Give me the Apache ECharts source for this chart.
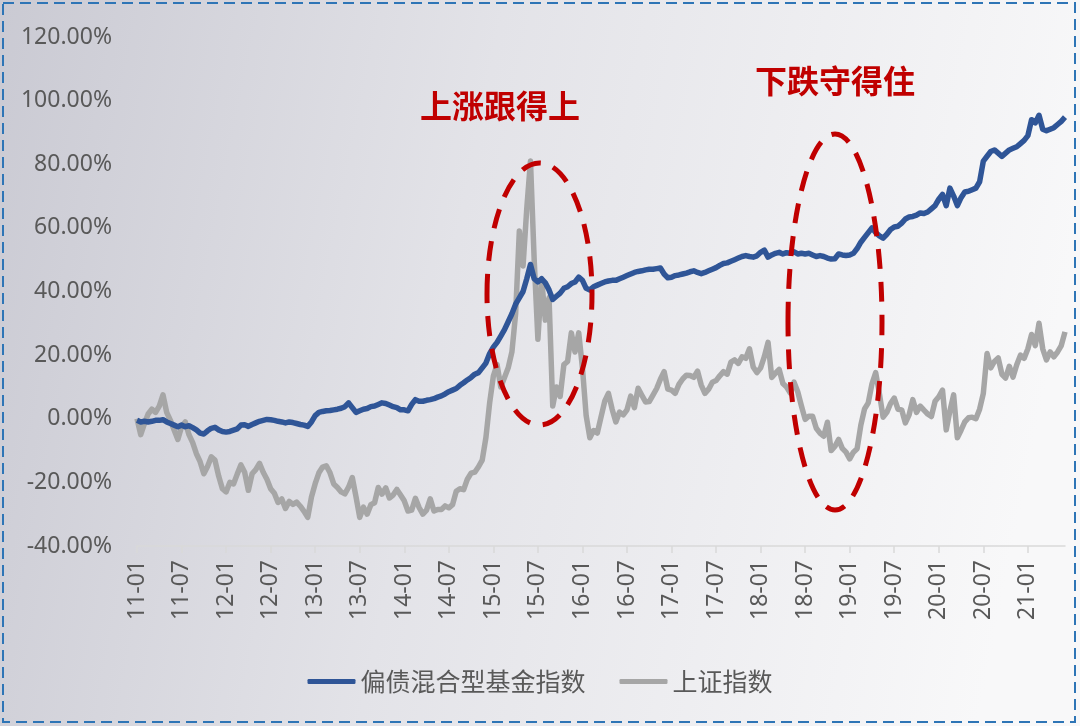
<!DOCTYPE html>
<html>
<head>
<meta charset="utf-8">
<script src="https://cdn.jsdelivr.net/npm/echarts@6/dist/echarts.min.js"></script>
<style>
  html, body { margin: 0; padding: 0; }
  #chart { width: 1080px; height: 726px; }
</style>
</head>
<body>
<div id="chart"></div>
<script>
// half-month samples, 2011-01-01 .. 2021-06-01 (cumulative return, %)
const fundIndex = [
  -0.5, -1, -0.8, -1, -0.8, -0.5, -0.5, -0.3, -1, -1.5, -2, -2.5, -2, -2.5, -2.2, -2.8, -3.5, -4.5, -4.8, -3.8, -3, -2.7, -3.5, -4,       // 2011
  -4.2, -4, -3.6, -3.2, -2, -1.9, -2.4, -1.8, -1.3, -0.8, -0.5, -0.2, -0.3, -0.5, -0.8, -1, -1.3, -1, -1.2, -1.5, -1.8, -2, -2.4, -1,    // 2012
  1, 2, 2.3, 2.5, 2.6, 2.8, 3, 3.3, 3.8, 5, 3.5, 2, 2.5, 3, 3.2, 3.8, 4, 4.5, 5, 4.8, 4.3, 3.8, 3.5, 2.8,                                 // 2013
  2.8, 2.5, 4.5, 6, 5.5, 5.5, 5.8, 6, 6.3, 6.8, 7.2, 7.8, 8.5, 9, 9.5, 10.5, 11.3, 12.2, 13, 14, 14.5, 16, 17.5, 20.5,                    // 2014
  22.5, 24, 26, 28, 30.5, 33, 36, 38, 40, 44, 48.5, 44, 43, 44, 42.7, 40.5, 37.5, 38.5, 39.5, 41, 41.5, 42.5, 43, 44.5,                   // 2015
  43.5, 41, 40.5, 41.5, 42, 42.5, 43, 43.3, 43.5, 43.5, 44, 44.5, 45, 45.5, 46, 46.3, 46.5, 46.8, 47, 47, 47.2, 47.4, 45.5, 44.3,        // 2016
  44.5, 45, 45.2, 45.5, 45.8, 46.2, 46.5, 46, 45.6, 46, 46.5, 47, 47.5, 48.2, 48.8, 49, 49.5, 50, 50.5, 51, 51.3, 51, 50.8, 51.2,         // 2017
  52.3, 53, 50.8, 51.5, 52, 52.3, 51.8, 52.2, 52, 52.5, 51.8, 52, 51.8, 52, 51.5, 51, 51.3, 51, 50.5, 50.2, 50.3, 51.8, 51.5, 51.3,       // 2018
  51.5, 52, 53.5, 55.5, 57, 58.5, 60, 58.5, 57.5, 56.8, 58, 59.5, 60.3, 60.5, 61.5, 62.8, 63.4, 63.6, 64, 64.7, 64.5, 65, 66, 67,         // 2019
  69, 70.5, 67, 72.5, 70, 67, 69.5, 71.3, 71.5, 72, 72.5, 74.5, 81, 82.5, 84, 84.5, 83.5, 82.5, 83.5, 84.5, 85, 85.5, 86.5, 87.5,        // 2020
  89, 94, 93, 95.4, 91, 90.5, 91, 91.5, 92.5, 93.5, 94.8                                                                                  // 2021
];

const sseIndex = [
  0, -5, -1.5, 1.5, 3, 2, 4, 7.5, 2, -0.5, -3.5, -6.5, -2.5, -1, -5, -7.5, -11, -13.5, -17.3, -15, -12, -13, -18, -22,                   // 2011
  -23, -20, -20.5, -17.4, -14.5, -16.8, -22.5, -17.3, -16, -14, -16.8, -19, -22, -23.4, -26.3, -25.2, -28.2, -26, -26.9, -26.2, -27.5, -29.1, -31, -24.6, // 2012
  -20.4, -17, -15.2, -14.8, -17, -20.5, -21.6, -23, -23.6, -21.5, -18.5, -24.5, -31, -27.8, -30, -27, -26.4, -21.6, -23.7, -21.7, -24.9, -24, -22.2, -24, // 2013
  -25.8, -29, -28.7, -25, -27.9, -30, -28.7, -25.2, -29, -28.5, -28.5, -27.4, -28, -27, -22.8, -22, -22.3, -19, -17.1, -16.8, -15.1, -13, -5.9, 5,      // 2014
  13.4, 17, 10, 13, 16, 21, 33, 59, 48, 66, 81, 50, 25, 44, 31, 38, 4, 10, 7, 17, 18, 27, 21, 27,                                        // 2015
  16, 1, -6, -3.7, -4.5, 0.5, 5.5, 8, 3, -1, 2.1, 1.2, 2.8, 7.1, 3.5, 9.6, 7.4, 5.3, 5.4, 7.4, 9.5, 12.4, 14.8, 9.3,                       // 2016
  9, 8, 10.8, 12.5, 13.7, 13.6, 13, 15, 10.6, 8, 9.3, 11.5, 12, 13.5, 14.8, 14, 17.8, 18.5, 17.4, 19.5, 19, 22, 16.3, 14.5,               // 2017
  16, 19.5, 24, 13, 14.3, 15.5, 11.1, 10, 8.1, 11.5, 8.5, 4, -0.2, 0.8, 0.8, -3, -4.5, -5.5, -1.1, -10, -8.7, -6.5, -9.3, -10.5,          // 2018
  -12.6, -10.5, -9.4, -2, 3.1, 5, 11, 14.5, 7.9, 0.5, 2, 4.8, 6.5, 3, 2.8, -1.3, 1.2, 6, 2, 4, 2.7, 1.5, 0.7, 5.5,                          // 2019
  6.9, 9, -3.5, 2.5, 7.5, -6, -3.6, -1, 0.3, 0.5, 0, 3, 8, 20.5, 16, 18, 19.1, 14, 12.8, 16.5, 13.1, 17, 20, 19,                          // 2020
  22, 26.5, 23, 30, 22, 18.5, 21, 19.5, 21, 23, 27.3                                                                                      // 2021
];

// category dates: 1st and 15th of each month
const dates = [];
for (let y = 2011; y <= 2021; y++) {
  for (let m = 1; m <= 12; m++) {
    const mm = String(m).padStart(2, '0');
    dates.push(y + '-' + mm + '-01');
    if (y === 2021 && m === 6) break;
    dates.push(y + '-' + mm + '-15');
  }
}

const yMin = -40, yMax = 120, yStep = 20;

const isHalfYear = (idx, val) => /-(01|07)-01$/.test(val);

const chart = echarts.init(document.getElementById('chart'));

const option = {
  animation: false,
  backgroundColor: {
    type: 'linear', x: 0, y: 0, x2: 1, y2: 0.3,
    colorStops: [
      { offset: 0, color: '#CACAD3' },
      { offset: 0.45, color: '#E3E3E8' },
      { offset: 1, color: '#F8F8F9' }
    ]
  },
  grid: { left: 137, right: 15, top: 37, bottom: 180 },
  legend: {
    bottom: 27,
    left: 'center',
    icon: 'roundRect',
    itemWidth: 48,
    itemHeight: 5,
    itemGap: 34,
    textStyle: { fontFamily: 'Noto Sans CJK SC', fontSize: 25, color: '#595959' },
    data: ['偏债混合型基金指数', '上证指数']
  },
  xAxis: {
    type: 'category',
    data: dates,
    boundaryGap: false,
    axisLine: { onZero: false, lineStyle: { color: '#D9D9D9', width: 1.5 } },
    axisTick: { interval: isHalfYear, length: 7, lineStyle: { color: '#D9D9D9', width: 1.5 } },
    axisLabel: {
      interval: isHalfYear,
      rotate: 90,
      margin: 14,
      fontFamily: 'Noto Sans',
      fontSize: 23,
      color: '#595959',
      formatter: v => v.slice(2, 7)
    },
    splitLine: { show: false }
  },
  yAxis: {
    type: 'value',
    min: yMin,
    max: yMax,
    interval: yStep,
    axisLine: { show: false },
    axisTick: { show: false },
    splitLine: { show: false },
    axisLabel: {
      margin: 25,
      fontFamily: 'Noto Sans',
      fontSize: 23,
      color: '#595959',
      formatter: v => v.toFixed(2) + '%'
    }
  },
  series: [
    {
      name: '偏债混合型基金指数',
      type: 'line',
      data: fundIndex,
      symbol: 'none',
      z: 4,
      lineStyle: { color: '#2F5597', width: 5.5, join: 'round' },
      itemStyle: { color: '#2F5597' }
    },
    {
      name: '上证指数',
      type: 'line',
      data: sseIndex,
      symbol: 'none',
      z: 2,
      lineStyle: { color: '#A6A6A6', width: 5.5, join: 'round' },
      itemStyle: { color: '#A6A6A6' }
    }
  ],
  graphic: [
    {
      type: 'rect',
      silent: true,
      z: 100,
      shape: { x: 3, y: 3, width: 1072, height: 719 },
      style: { fill: null, stroke: '#2E75B6', lineWidth: 2, lineDash: [11, 6] }
    },
    {
      type: 'text',
      z: 100,
      style: {
        text: '上涨跟得上', x: 500, y: 106, align: 'center', verticalAlign: 'middle',
        fill: '#C00000', font: 'bold 32px "Noto Sans CJK SC"'
      }
    },
    {
      type: 'text',
      z: 100,
      style: {
        text: '下跌守得住', x: 835, y: 81, align: 'center', verticalAlign: 'middle',
        fill: '#C00000', font: 'bold 32px "Noto Sans CJK SC"'
      }
    },
    {
      type: 'ellipse',
      z: 100,
      shape: { cx: 539.5, cy: 294, rx: 52.5, ry: 131 },
      style: { fill: null, stroke: '#C00000', lineWidth: 5, lineDash: [20, 13] }
    },
    {
      type: 'ellipse',
      z: 100,
      shape: { cx: 835, cy: 322, rx: 47, ry: 188 },
      style: { fill: null, stroke: '#C00000', lineWidth: 5, lineDash: [20, 13] }
    }
  ]
};

chart.setOption(option);
</script>
</body>
</html>
